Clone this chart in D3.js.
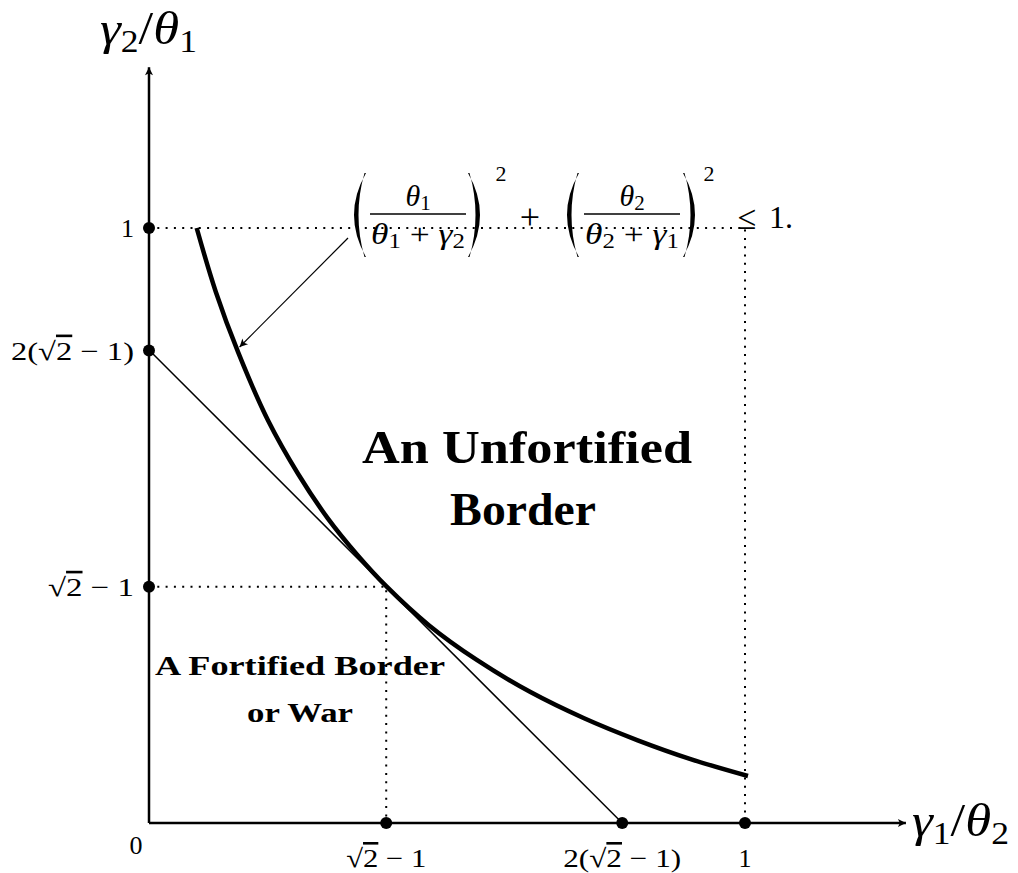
<!DOCTYPE html>
<html>
<head>
<meta charset="utf-8">
<script src="https://cdn.jsdelivr.net/npm/d3@7"></script>
<style>
  body { margin: 0; background: #fff; }
  svg text { font-family: "Liberation Serif", "DejaVu Serif", serif; fill: #000; }
  .it { font-style: italic; }
</style>
</head>
<body>
<svg id="chart" width="1018" height="873"></svg>
<script>
// curve (x = gamma1/theta2, y = gamma2/theta1)
var curveX = [0.080, 0.112, 0.150, 0.200, 0.250, 0.300, 0.350, 0.398, 0.470, 0.550, 0.640, 0.730, 0.820, 0.910, 1.005];
var curveY = [1.000, 0.893, 0.790, 0.676, 0.587, 0.512, 0.450, 0.398, 0.332, 0.274, 0.220, 0.176, 0.139, 0.107, 0.079];

// tangent line x + y = 2(sqrt2 - 1)
var tangentX = [0, 0.794];
var tangentY = [0.795, 0];

// marked points on the axes
var xTickVals = [0.398, 0.794, 1];
var xTickLabels = ["r", "2r", "1"];
var yTickVals = [1, 0.794, 0.397];
var yTickLabels = ["1", "2r", "r"];

// dotted guides: corner points
var guideX = [1, 0.398];
var guideY = [1, 0.397];

var xMax = 1.27, yMax = 1.27;

var svg = d3.select("#chart");
var x = d3.scaleLinear().domain([0, 1]).range([149, 745]);
var y = d3.scaleLinear().domain([0, 1]).range([823, 228]);

var defs = svg.append("defs");
function arrowMarker(id, w, h) {
  defs.append("marker")
    .attr("id", id)
    .attr("viewBox", "0 0 10 10")
    .attr("refX", 10).attr("refY", 5)
    .attr("markerUnits", "userSpaceOnUse")
    .attr("markerWidth", w).attr("markerHeight", h)
    .attr("orient", "auto")
    .append("path")
    .attr("d", "M0,0 L10,5 L0,10 L2.5,5 Z")
    .attr("fill", "#000");
}
arrowMarker("axArrow", 10, 8);
arrowMarker("noteArrow", 11, 8);

var line = d3.line().x(function(d) { return x(d[0]); }).y(function(d) { return y(d[1]); });

// dotted guides
guideX.forEach(function(gx, i) {
  var gy = guideY[i];
  svg.append("path")
    .attr("d", line([[0, gy], [gx, gy], [gx, 0]]))
    .attr("fill", "none")
    .attr("stroke", "#000")
    .attr("stroke-width", 2)
    .attr("stroke-dasharray", "2,6.3");
});

// axes
svg.append("path")
  .attr("d", line([[0, 0], [xMax, 0]]))
  .attr("stroke", "#000").attr("stroke-width", 2.5)
  .attr("marker-end", "url(#axArrow)");
svg.append("path")
  .attr("d", line([[0, 0], [0, yMax]]))
  .attr("stroke", "#000").attr("stroke-width", 2.5)
  .attr("marker-end", "url(#axArrow)");

// tangent line
svg.append("path")
  .attr("d", line(tangentX.map(function(v, i) { return [v, tangentY[i]]; })))
  .attr("stroke", "#000").attr("stroke-width", 1.5).attr("fill", "none");

// the curve
var smooth = d3.line().curve(d3.curveCatmullRom.alpha(0.5))
  .x(function(d) { return x(d[0]); }).y(function(d) { return y(d[1]); });
svg.append("path")
  .attr("d", smooth(curveX.map(function(v, i) { return [v, curveY[i]]; })))
  .attr("stroke", "#000").attr("stroke-width", 4.5).attr("fill", "none");

// dots
xTickVals.forEach(function(v) {
  svg.append("circle").attr("cx", x(v)).attr("cy", y(0)).attr("r", 6).attr("fill", "#000");
});
yTickVals.forEach(function(v) {
  svg.append("circle").attr("cx", x(0)).attr("cy", y(v)).attr("r", 6).attr("fill", "#000");
});

// tick label with sqrt(2) - 1 forms
function mathLabel(sel, kind) {
  if (kind === "1" || kind === "0") { sel.text(kind); return; }
  if (kind === "2r") sel.append("tspan").text("2(");
  sel.append("tspan").text("\u221A");
  sel.append("tspan").style("text-decoration", "overline").text("2");
  sel.append("tspan").text(" \u2212 1");
  if (kind === "2r") sel.append("tspan").text(")");
}
var xLabW = { r: 80, "2r": 118 };
var yLabW = { r: 86, "2r": 123 };

xTickVals.forEach(function(v, i) {
  var t = svg.append("text")
    .attr("x", x(v)).attr("y", 867)
    .attr("text-anchor", "middle")
    .attr("font-size", 26);
  if (xLabW[xTickLabels[i]]) t.attr("textLength", xLabW[xTickLabels[i]]).attr("lengthAdjust", "spacingAndGlyphs");
  mathLabel(t, xTickLabels[i]);
});
svg.append("text").attr("x", 136).attr("y", 854).attr("text-anchor", "middle")
  .attr("font-size", 26).text("0");

yTickVals.forEach(function(v, i) {
  var t = svg.append("text")
    .attr("x", 134).attr("y", y(v) + 9)
    .attr("text-anchor", "end")
    .attr("font-size", 26);
  if (yLabW[yTickLabels[i]]) t.attr("textLength", yLabW[yTickLabels[i]]).attr("lengthAdjust", "spacingAndGlyphs");
  mathLabel(t, yTickLabels[i]);
});

// axis titles
function ratioLabel(px, py, a, b, c, d) {
  var t = svg.append("text").attr("x", px).attr("y", py).attr("font-size", 46)
    .attr("textLength", 97).attr("lengthAdjust", "spacingAndGlyphs");
  t.append("tspan").attr("class", "it").text(a);
  t.append("tspan").attr("font-size", 31).attr("dy", 8).text(b);
  t.append("tspan").attr("dy", -8).text("/");
  t.append("tspan").attr("class", "it").text(c);
  t.append("tspan").attr("font-size", 31).attr("dy", 8).text(d);
}
ratioLabel(100, 44, "\u03B3", "2", "\u03B8", "1");
ratioLabel(912, 836, "\u03B3", "1", "\u03B8", "2");

// region labels
svg.append("text").attr("x", 527).attr("y", 463).attr("text-anchor", "middle")
  .attr("font-size", 47).attr("font-weight", "bold")
  .attr("textLength", 330).attr("lengthAdjust", "spacingAndGlyphs")
  .text("An Unfortified");
svg.append("text").attr("x", 523).attr("y", 525).attr("text-anchor", "middle")
  .attr("font-size", 47).attr("font-weight", "bold")
  .attr("textLength", 146).attr("lengthAdjust", "spacingAndGlyphs")
  .text("Border");
svg.append("text").attr("x", 300).attr("y", 675).attr("text-anchor", "middle")
  .attr("font-size", 28).attr("font-weight", "bold")
  .attr("textLength", 290).attr("lengthAdjust", "spacingAndGlyphs")
  .text("A Fortified Border");
svg.append("text").attr("x", 300).attr("y", 722).attr("text-anchor", "middle")
  .attr("font-size", 28).attr("font-weight", "bold")
  .attr("textLength", 106).attr("lengthAdjust", "spacingAndGlyphs")
  .text("or War");

// formula
var f = svg.append("g").attr("class", "formula");
function frac(cx, num, numSub, den1, den1Sub, den2, den2Sub) {
  var n = f.append("text").attr("x", cx).attr("y", 206).attr("text-anchor", "middle").attr("font-size", 30);
  n.append("tspan").attr("class", "it").text(num);
  n.append("tspan").attr("font-size", 21).attr("dy", 4).text(numSub);
  f.append("line").attr("x1", cx - 48).attr("x2", cx + 48).attr("y1", 214).attr("y2", 214)
    .attr("stroke", "#000").attr("stroke-width", 1.6);
  var d = f.append("text").attr("x", cx).attr("y", 244).attr("text-anchor", "middle").attr("font-size", 30)
    .attr("textLength", 94).attr("lengthAdjust", "spacingAndGlyphs");
  d.append("tspan").attr("class", "it").text(den1);
  d.append("tspan").attr("font-size", 21).attr("dy", 4).text(den1Sub);
  d.append("tspan").attr("dy", -4).text(" + ");
  d.append("tspan").attr("class", "it").text(den2);
  d.append("tspan").attr("font-size", 21).attr("dy", 4).text(den2Sub);
}
// tall delimiters drawn as crescents; dir = -1 for "(", 1 for ")"
function paren(px, dir) {
  var top = 173, bot = 257, mid = (top + bot) / 2;
  var p = d3.path();
  p.moveTo(px - dir * 6, top);
  p.quadraticCurveTo(px + dir * 18, mid, px - dir * 6, bot);
  p.lineTo(px - dir * 4.5, bot);
  p.quadraticCurveTo(px + dir * 7.5, mid, px - dir * 4.5, top);
  p.closePath();
  f.append("path").attr("d", p.toString()).attr("fill", "#000");
}
paren(360, -1);
frac(418, "\u03B8", "1", "\u03B8", "1", "\u03B3", "2");
paren(474, 1);
f.append("text").attr("x", 501).attr("y", 181).attr("text-anchor", "middle").attr("font-size", 22).text("2");
f.append("text").attr("x", 530).attr("y", 229).attr("text-anchor", "middle").attr("font-size", 36).text("+");
paren(573, -1);
frac(632, "\u03B8", "2", "\u03B8", "2", "\u03B3", "1");
paren(689, 1);
f.append("text").attr("x", 709).attr("y", 181).attr("text-anchor", "middle").attr("font-size", 22).text("2");
f.append("text").attr("x", 747).attr("y", 229).attr("text-anchor", "middle").attr("font-size", 34).text("\u2264");
f.append("text").attr("x", 769).attr("y", 228).attr("font-size", 32).text("1.");

// annotation arrow from formula to curve
svg.append("line")
  .attr("x1", 348).attr("y1", 238).attr("x2", x(0.152)).attr("y2", y(0.800))
  .attr("stroke", "#000").attr("stroke-width", 1.2)
  .attr("marker-end", "url(#noteArrow)");
</script>
</body>
</html>
